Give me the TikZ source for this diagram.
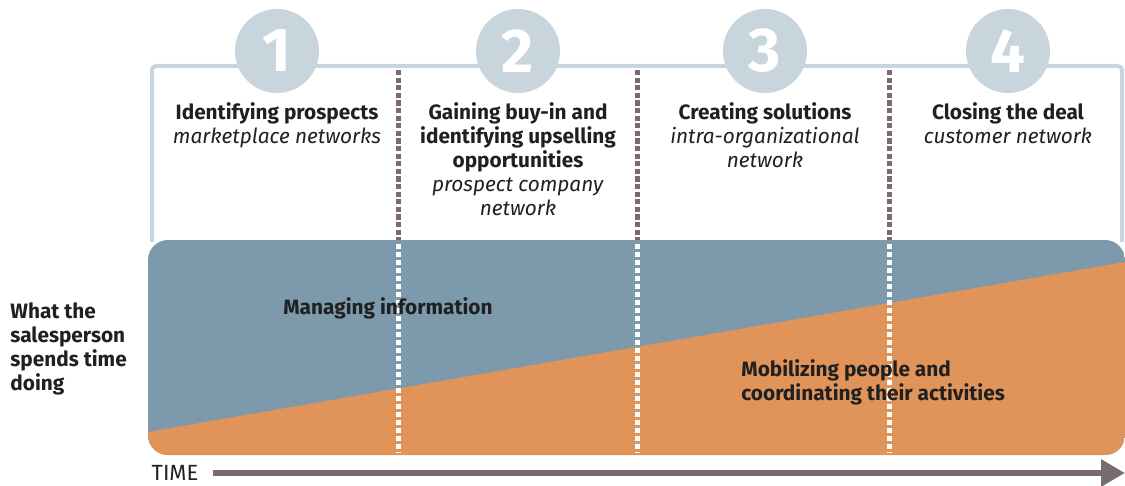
\documentclass[tikz,border=0pt]{standalone}
\usepackage{fontspec}
\setmainfont{Fira Sans}
\usepackage{tikz}
\usetikzlibrary{arrows.meta}

\definecolor{framegray}{RGB}{201,213,221}
\definecolor{infoblue}{RGB}{124,154,171}
\definecolor{peopleorange}{RGB}{225,148,90}
\definecolor{dividergray}{RGB}{122,107,115}
\definecolor{textdark}{RGB}{32,32,32}

\tikzset{
  frameline/.style={line width=2pt, framegray, rounded corners=2pt},
  stagenum/.style={circle, fill=framegray, minimum size=42pt, inner sep=0pt, text=white,
                   font=\fontsize{31}{31}\selectfont\bfseries},
  stagetext/.style={anchor=north, align=center, inner sep=0pt, text=textdark,
                    font=\fontsize{10.4}{12}\selectfont},
  boldtext/.style={inner sep=0pt, align=left, text=textdark,
                   font=\fontsize{10.4}{12}\selectfont\bfseries},
  darkdash/.style={line width=2.5pt, dividergray, dash pattern=on 2.6pt off 1.2pt},
  whitedash/.style={line width=2.5pt, white, dash pattern=on 2.6pt off 1.4pt},
  timearrow/.style={line width=3pt, dividergray, -{Triangle[length=12pt,width=13pt]}}
}

\begin{document}
\begin{tikzpicture}[x=0.5pt, y=-0.5pt]
        \useasboundingbox  (0,0) rectangle (1125,486);

        % frame over the four stages
        \draw [frameline]  (152,242) -- (152,66) -- (1122,66) -- (1122,242);

        \node [stagenum] (num1) at (277,51)  {1};
        \node [stagenum] (num2) at (518,51)  {2};
        \node [stagenum] (num3) at (765,51)  {3};
        \node [stagenum] (num4) at (1008,51) {4};

        \node [stagetext] (stage1) at (277,102)  {\textbf{Identifying prospects}\\\textit{marketplace networks}};
        \node [stagetext] (stage2) at (518,102)  {\textbf{Gaining buy-in and}\\\textbf{identifying upselling}\\\textbf{opportunities}\\\textit{prospect company}\\\textit{network}};
        \node [stagetext] (stage3) at (765,102)  {\textbf{Creating solutions}\\\textit{intra-organizational}\\\textit{network}};
        \node [stagetext] (stage4) at (1008,102) {\textbf{Closing the deal}\\\textit{customer network}};

        % time band
        \begin{scope}
          \clip [rounded corners=10pt]  (148,240) rectangle (1125,455);
          \fill [infoblue]      (148,240) rectangle (1125,455);
          \fill [peopleorange]  (148,432) -- (1125,262) -- (1125,455) -- (148,455) -- cycle;
        \end{scope}

        \foreach \x in {398,637,889} {
          \draw [darkdash]   (\x,70)  -- (\x,240);
          \draw [whitedash]  (\x,244) -- (\x,453);
        }

        \node [boldtext, anchor=north west] (doing)  at (10,302)  {What the\\salesperson\\spends time\\doing};
        \node [boldtext]                    (info)   at (388,308) {Managing information};
        \node [boldtext, anchor=north west] (people) at (741,359) {Mobilizing people and\\coordinating their activities};

        \node [inner sep=0pt, text=textdark, font=\fontsize{11}{12}\selectfont] (time) at (175,473) {TIME};
        \coordinate (timeend) at (1125,473);
        \draw [timearrow]  ([xshift=7pt]time.east) -- (timeend);
      \end{tikzpicture}
\end{document}
